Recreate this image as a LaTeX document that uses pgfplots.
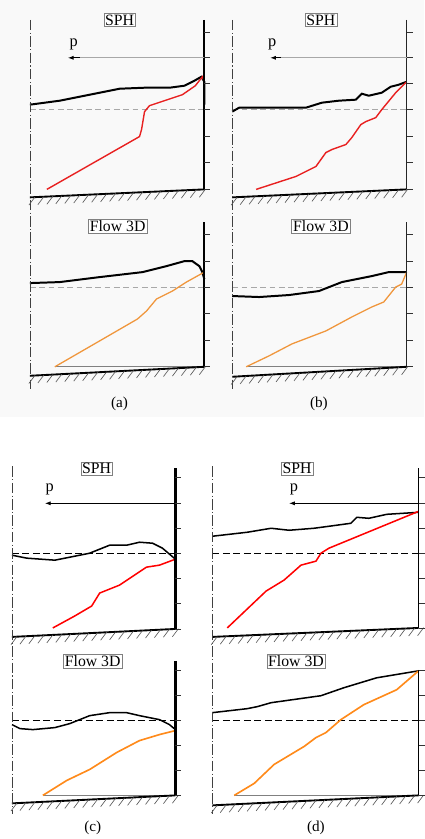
\documentclass[border=0pt]{standalone}
\usepackage{fontspec}
\setmainfont{Liberation Serif}
\usepackage{pgfplots}
\pgfplotsset{compat=1.18}
\usetikzlibrary{arrows.meta}

\definecolor{sphred}{HTML}{E82020}
\definecolor{floworA}{HTML}{F0963C}
\definecolor{floworB}{HTML}{FF8A1A}
\definecolor{lvlgray}{HTML}{A8A8A8}

% wall hatching: x1 y1 x2 y2 step
\newcommand{\hatchwall}[5]{%
  \pgfmathtruncatemacro{\hn}{(#3-#1)/#5}
  \foreach \i in {0,...,\hn}{
    \pgfmathsetmacro{\hx}{#1+5+\i*#5}
    \pgfmathsetmacro{\hy}{#2+(\hx-#1)*(#4-#2)/(#3-#1)}
    \draw[gray!70!black, line width=0.55pt] (\hx,\hy) -- ++(-6,8);
  }}
% ticks on the right wall: x, list of y
\newcommand{\walltick}[2]{%
  \foreach \ty in {#2}{\draw[black!80, line width=0.6pt] (#1,\ty) -- ++(6,0);}}

\tikzset{lab/.style={draw=gray, fill=white, inner sep=1.2pt,
  font=\fontsize{13.5}{15}\selectfont}}

\begin{document}
\begin{tikzpicture}
\begin{scope}[x=0.03cm, y=-0.03cm]
  \path (0,0) rectangle (425,839);
  \fill[gray!5] (0,0) rectangle (425,418);
\end{scope}

\begin{axis}[
  at={(0,0)}, anchor=north west,
  scale only axis, width=12.75cm, height=25.17cm,
  xmin=0, xmax=425, ymin=0, ymax=839, y dir=reverse,
  hide axis, clip=false,
  every axis plot/.append style={no markers},
]
% ---------- (a) SPH ----------
\addplot[lvlgray, line width=0.8pt, dash pattern=on 5pt off 3pt] coordinates {(30,110) (205,110)};
\addplot[black, line width=1.7pt] coordinates {
  (30,105) (60,101) (90,95) (120,89) (145,88) (170,88) (185,86) (195,81) (202,77) (205,82) (205,105)};
\addplot[sphred, line width=1.2pt] coordinates {
  (47,190) (140,137) (142,130) (145,112) (150,106) (183,95) (196,86) (203,77) (205,82)};
\addplot[black, line width=1.8pt] coordinates {(205,20) (205,190)};
\addplot[black, line width=1.6pt] coordinates {(30,198) (205,190)};
% ---------- (a) Flow 3D ----------
\addplot[lvlgray, line width=0.8pt, dash pattern=on 5pt off 3pt] coordinates {(30,288) (205,288)};
\addplot[gray, line width=0.6pt] coordinates {(55,368) (205,368)};
\addplot[black, line width=1.7pt] coordinates {
  (30,284) (60,283) (100,278) (143,273) (167,267) (185,262) (193,262) (200,267) (203,273) (205,280)};
\addplot[floworA, line width=1.1pt] coordinates {
  (55,368) (100,342) (138,320) (147,312) (157,300) (173,292) (187,283) (205,273)};
\addplot[black, line width=1.8pt] coordinates {(205,223) (205,368)};
\addplot[black, line width=1.6pt] coordinates {(30,377) (205,368)};
% ---------- (b) SPH ----------
\addplot[lvlgray, line width=0.8pt, dash pattern=on 5pt off 3pt] coordinates {(233,110) (408,110)};
\addplot[black, line width=1.7pt] coordinates {
  (233,112) (240,108) (260,108) (307,108) (323,103) (340,101) (357,100) (363,94) (370,96) (383,93) (392,87) (400,85) (408,82)};
\addplot[sphred, line width=1.2pt] coordinates {
  (257,190) (297,177) (317,167) (327,153) (333,150) (347,145) (353,138) (362,125) (367,122) (377,118) (383,110) (397,93) (408,82)};
\addplot[black!85, line width=1.2pt] coordinates {(408,20) (408,190)};
\addplot[black, line width=1.6pt] coordinates {(233,198) (408,190)};
% ---------- (b) Flow 3D ----------
\addplot[lvlgray, line width=0.8pt, dash pattern=on 5pt off 3pt] coordinates {(233,288) (408,288)};
\addplot[gray, line width=0.6pt] coordinates {(247,368) (408,368)};
\addplot[black, line width=1.7pt] coordinates {
  (233,297) (260,298) (290,296) (320,292) (343,283) (373,277) (390,273) (408,273)};
\addplot[floworA, line width=1.1pt] coordinates {
  (247,368) (270,357) (293,345) (327,332) (353,318) (373,308) (385,303) (397,288) (403,285) (408,273)};
\addplot[black!85, line width=1.2pt] coordinates {(408,223) (408,368)};
\addplot[black, line width=1.6pt] coordinates {(233,378) (408,368)};
% ---------- (c) SPH ----------
\addplot[black, line width=0.7pt, dash pattern=on 6pt off 3pt] coordinates {(12,555) (176,555)};
\addplot[black, line width=1.3pt] coordinates {
  (12,557) (27,560) (55,562) (90,555) (110,547) (127,547) (140,544) (153,545) (163,550) (176,561)};
\addplot[red, line width=1.3pt] coordinates {
  (53,630) (75,618) (92,608) (100,595) (120,587) (147,569) (160,567) (176,561)};
\addplot[black, line width=2pt] coordinates {(176,470) (176,631)};
\addplot[black, line width=1.6pt] coordinates {(12,639) (176,631)};
% ---------- (c) Flow 3D ----------
\addplot[black, line width=0.7pt, dash pattern=on 6pt off 3pt] coordinates {(12,723) (176,723)};
\addplot[gray, line width=0.6pt] coordinates {(43,798) (176,798)};
\addplot[black, line width=1.3pt] coordinates {
  (12,727) (20,731) (33,732) (55,730) (70,726) (90,718) (110,715) (127,715) (140,718) (160,722) (170,727) (176,732)};
\addplot[floworB, line width=1.4pt] coordinates {
  (43,798) (67,783) (90,772) (117,755) (140,743) (160,737) (176,733)};
\addplot[black, line width=2pt] coordinates {(176,663) (176,798)};
\addplot[black, line width=1.6pt] coordinates {(12,806) (176,798)};
% ---------- (d) SPH ----------
\addplot[black, line width=0.7pt, dash pattern=on 6pt off 3pt] coordinates {(213,555) (420,555)};
\addplot[black, line width=1.3pt] coordinates {
  (213,538) (248,534) (272,530) (290,532) (315,530) (330,528) (352,525) (358,519) (370,520) (388,516) (420,514)};
\addplot[red, line width=1.3pt] coordinates {
  (228,630) (267,593) (285,582) (302,567) (317,563) (322,555) (330,550) (420,513)};
\addplot[black, line width=1.4pt] coordinates {(420,470) (420,630)};
\addplot[black, line width=1.6pt] coordinates {(213,639) (420,630)};
% ---------- (d) Flow 3D ----------
\addplot[black, line width=0.7pt, dash pattern=on 6pt off 3pt] coordinates {(213,723) (420,723)};
\addplot[gray, line width=0.6pt] coordinates {(235,798) (420,798)};
\addplot[black, line width=1.3pt] coordinates {
  (213,715) (248,711) (258,709) (272,705) (322,698) (345,690) (378,680) (420,673)};
\addplot[floworB, line width=1.4pt] coordinates {
  (235,798) (255,786) (275,767) (305,749) (317,740) (327,735) (342,722) (365,707) (398,692) (420,673)};
\addplot[black, line width=1.4pt] coordinates {(420,672) (420,798)};
\addplot[black, line width=1.6pt] coordinates {(213,808) (420,798)};
\end{axis}

\begin{scope}[x=0.03cm, y=-0.03cm]
  % centre lines
  \foreach \cx/\ya/\yb in {30.7/20/390, 233/20/390, 12/468/817, 213/468/817}
    \draw[black!75, line width=0.6pt, dash pattern=on 9pt off 2pt on 1pt off 2pt] (\cx,\ya) -- (\cx,\yb);
  % hatching
  \hatchwall{30}{198}{205}{190}{9}
  \hatchwall{30}{377}{205}{368}{9}
  \hatchwall{233}{198}{408}{190}{9}
  \hatchwall{233}{378}{408}{368}{9}
  \hatchwall{12}{639}{176}{631}{9}
  \hatchwall{12}{806}{176}{798}{9}
  \hatchwall{213}{639}{420}{630}{9}
  \hatchwall{213}{808}{420}{798}{9}
  % right-wall ticks
  \walltick{205}{32,58,84,110,137,163,190}
  \walltick{205}{235,262,288,314,341,368}
  \walltick{408}{32,58,84,110,137,163,190}
  \walltick{408}{235,262,288,314,341,368}
  \walltick{176}{479,505,530,555,580,605,631}
  \walltick{176}{673,698,723,748,773,798}
  \walltick{420}{479,505,530,555,580,605,630}
  \walltick{420}{673,698,723,748,773,798}
  % pressure arrows
  \draw[lvlgray, line width=0.8pt] (76,58) -- (205,58);
  \draw[-{Latex[length=5pt,width=3.5pt]}, black, line width=0.8pt] (80,58) -- (68,58);
  \draw[lvlgray, line width=0.8pt] (278,58) -- (408,58);
  \draw[-{Latex[length=5pt,width=3.5pt]}, black, line width=0.8pt] (282,58) -- (271,58);
  \draw[-{Latex[length=5pt,width=3.5pt]}, black, line width=0.7pt] (176,505) -- (45,505);
  \draw[-{Latex[length=5pt,width=3.5pt]}, black, line width=0.7pt] (420,505) -- (290,505);
  \foreach \px/\py in {74/45, 273/45, 50/491, 295/491}
    \node[font=\fontsize{14}{16}\selectfont] at (\px,\py) {p};
  % method labels
  \node[lab] at (120,20) {SPH};
  \node[lab] at (322,20) {SPH};
  \node[lab] at (118,227) {Flow 3D};
  \node[lab] at (322,227) {Flow 3D};
  \node[lab] at (97,470) {SPH};
  \node[lab] at (298,470) {SPH};
  \node[lab] at (93,663) {Flow 3D};
  \node[lab] at (297,663) {Flow 3D};
  % panel letters
  \node[font=\fontsize{13}{15}\selectfont] at (120,405) {(a)};
  \node[font=\fontsize{13}{15}\selectfont] at (320,405) {(b)};
  \node[font=\fontsize{13}{15}\selectfont] at (93,831) {(c)};
  \node[font=\fontsize{13}{15}\selectfont] at (317,831) {(d)};
\end{scope}
\end{tikzpicture}
\end{document}
